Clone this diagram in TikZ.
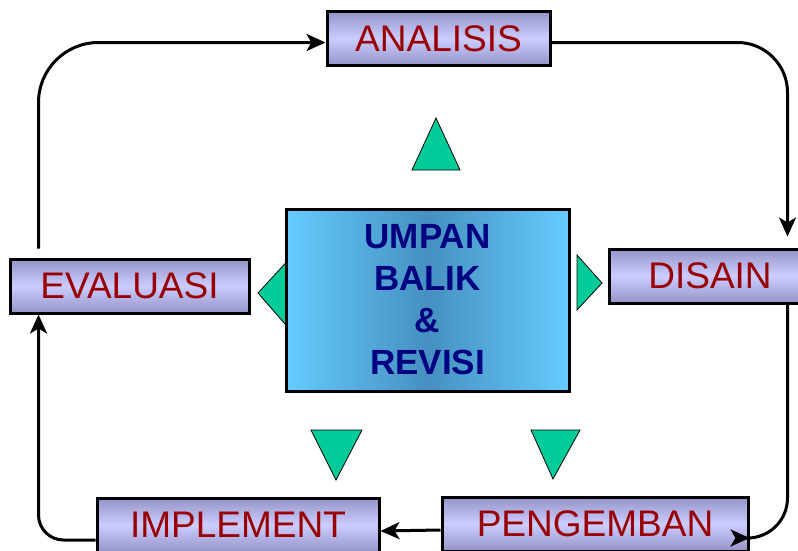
\documentclass[tikz,border=0pt]{standalone}
\usepackage{fontspec}
\setmainfont{Liberation Sans}
\usetikzlibrary{arrows,arrows.meta,shapes,positioning,calc}

\definecolor{boxlight}{HTML}{CCCCFF}
\definecolor{boxdark}{HTML}{9494C8}
\definecolor{labelred}{HTML}{990000}
\definecolor{centrelight}{HTML}{66CCFF}
\definecolor{centredark}{HTML}{4590C0}
\definecolor{navytext}{HTML}{000080}
\definecolor{triangreen}{HTML}{00CC99}

\tikzset{
  stage/.style={rectangle, draw=black, line width=3pt, top color=boxdark, bottom color=boxdark, middle color=boxlight,
    text=labelred, font=\fontsize{37}{40}\selectfont, minimum height=54pt, inner sep=0pt},
  flow/.style={-{Stealth[length=19pt,width=17pt,inset=5pt]}, line width=3pt},
  marker/.style={fill=triangreen, draw=black, line width=0.8pt}
}

\begin{document}
\begin{tikzpicture}[x=1pt,y=-1pt]
      \useasboundingbox (0,0) rectangle (798,550);
      \clip (0,0) rectangle (798,550);
      \fill[white] (0,0) rectangle (798,550);

      % Stages
      \node[stage, minimum width=223pt] (analisis) at (438.5,38.5) {ANALISIS};
      \node[stage, minimum width=202pt] (disain) at (710,276) {DISAIN};
      \node[stage, minimum width=306pt] (pengemban) at (595,524) {PENGEMBAN};
      \node[stage, minimum width=282pt] (implement) at (238,525) {IMPLEMENT};
      \node[stage, minimum width=239pt] (evaluasi) at (129.5,286) {EVALUASI};

      % Triangles
      \filldraw[marker] (412,170) -- (436,118) -- (460,170) -- cycle;
      \filldraw[marker] (311,430) -- (362,430) -- (336,480) -- cycle;
      \filldraw[marker] (531,430) -- (580,430) -- (553,479) -- cycle;
      \filldraw[marker] (258,293) -- (292,256) -- (292,332) -- cycle;
      \filldraw[marker] (577,255) -- (602,283) -- (577,310) -- cycle;

      % Centre
      \node[rectangle, draw=black, line width=3pt, left color=centrelight, right color=centrelight, middle color=centredark,
        minimum width=283pt, minimum height=182pt, text=navytext, align=center,
        font=\fontsize{35}{42}\selectfont\bfseries] (umpan) at (427.5,300) {UMPAN\\BALIK\\\&\\REVISI};

      % Cycle
      \draw[flow, rounded corners=60pt, shorten <=9pt] ([xshift=30pt]evaluasi.north west) |- ([yshift=-4pt]analisis.west);
      \draw[flow, rounded corners=50pt, shorten >=11pt] ([yshift=-4pt]analisis.east) -| ([xshift=180pt]disain.north west);
      \draw[flow, rounded corners=40pt] ([xshift=180pt]disain.south west) |- ([yshift=-14pt]pengemban.east);
      \draw[flow] ([yshift=-6pt]pengemban.west) -- ([yshift=-6pt]implement.east);
      \draw[flow, rounded corners=25pt] ([yshift=-15pt]implement.west) -| ([xshift=30pt]evaluasi.south west);
\end{tikzpicture}
\end{document}
